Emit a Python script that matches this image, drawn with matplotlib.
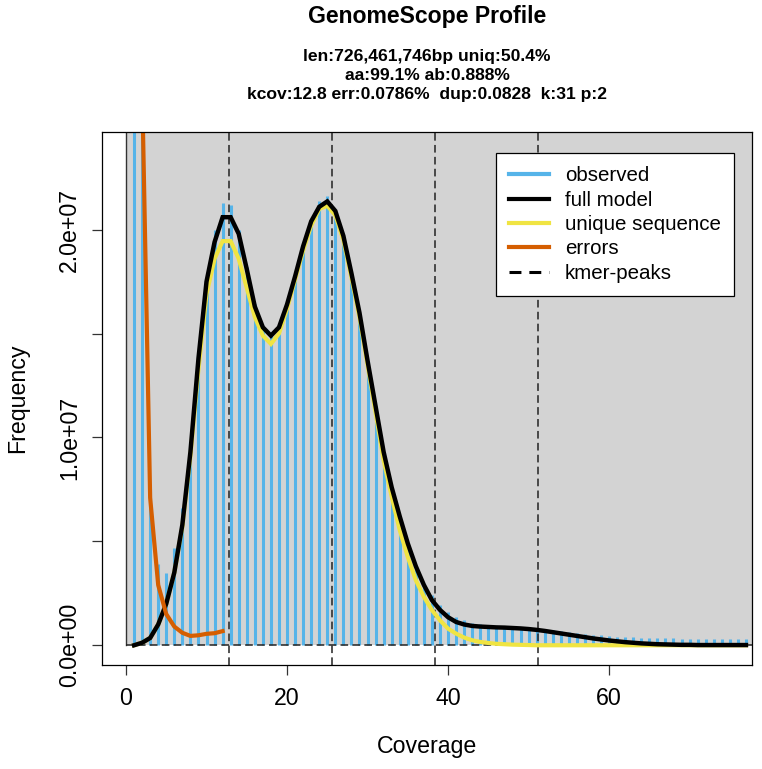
import numpy as np
import matplotlib
matplotlib.use('Agg')
import matplotlib.pyplot as plt
from matplotlib.lines import Line2D
from matplotlib.patches import Rectangle

plt.rcParams['font.family'] = ['Liberation Sans', 'DejaVu Sans']

# k-mer coverage histogram (values in units of 1e7)
coverage = np.arange(1, 78)
observed = np.array([
    6.0, 3.0, 0.75, 0.39, 0.35, 0.47, 0.66, 0.98, 1.40, 1.76,
    2.00, 2.13, 2.12, 2.00, 1.82, 1.64, 1.53, 1.49, 1.53, 1.64,
    1.78, 1.92, 2.04, 2.14, 2.16, 2.09, 1.97, 1.79, 1.59, 1.37,
    1.15, 0.93, 0.75, 0.60, 0.47, 0.377, 0.297, 0.24, 0.193, 0.16,
    0.136, 0.12, 0.107, 0.100, 0.097, 0.095, 0.094, 0.092, 0.090, 0.087,
    0.083, 0.079, 0.074, 0.069, 0.064, 0.059, 0.055, 0.051, 0.047, 0.044,
    0.042, 0.040, 0.038, 0.036, 0.035, 0.034, 0.033, 0.033, 0.032, 0.032,
    0.031, 0.031, 0.030, 0.030, 0.030, 0.029, 0.029]) * 1e7
full_model = np.array([
    0.0, 0.012, 0.035, 0.10, 0.20, 0.35, 0.58, 0.93, 1.38, 1.75,
    1.94, 2.06, 2.06, 1.98, 1.81, 1.63, 1.53, 1.49, 1.53, 1.64,
    1.775, 1.92, 2.04, 2.11, 2.136, 2.09, 1.97, 1.79, 1.60, 1.37,
    1.15, 0.93, 0.76, 0.62, 0.49, 0.38, 0.29, 0.217, 0.17, 0.135,
    0.112, 0.10, 0.093, 0.09, 0.088, 0.086, 0.085, 0.083, 0.081, 0.078,
    0.074, 0.069, 0.063, 0.057, 0.051, 0.045, 0.039, 0.033, 0.028, 0.023,
    0.019, 0.015, 0.012, 0.009, 0.007, 0.005, 0.004, 0.003, 0.002, 0.002,
    0.001, 0.001, 0.001, 0.001, 0.001, 0.001, 0.001]) * 1e7
unique_seq = np.array([
    0.0, 0.012, 0.035, 0.10, 0.20, 0.35, 0.57, 0.91, 1.33, 1.69,
    1.86, 1.945, 1.945, 1.86, 1.72, 1.58, 1.49, 1.45, 1.50, 1.62,
    1.76, 1.90, 2.02, 2.10, 2.115, 2.07, 1.95, 1.77, 1.58, 1.35,
    1.12, 0.89, 0.715, 0.554, 0.425, 0.313, 0.233, 0.169, 0.12, 0.08,
    0.056, 0.037, 0.024, 0.016, 0.011, 0.007, 0.005, 0.003, 0.002, 0.001,
    0.0, 0.0, 0.0, 0.0, 0.0, 0.0, 0.0, 0.0, 0.0, 0.0,
    0.0, 0.0, 0.0, 0.0, 0.0, 0.0, 0.0, 0.0, 0.0, 0.0,
    0.0, 0.0, 0.0, 0.0, 0.0, 0.0, 0.0]) * 1e7
err_coverage = np.arange(2, 13)
errors = np.array([2.7, 0.71, 0.29, 0.15, 0.09, 0.06, 0.045, 0.048, 0.055, 0.058, 0.068]) * 1e7

kcov = 12.8
peak_multiples = [1, 2, 3, 4]

x_ticks = [0, 20, 40, 60]
y_ticks = [0, 0.5e7, 1.0e7, 1.5e7, 2.0e7]
y_tick_labels = ['0.0e+00', '', '1.0e+07', '', '2.0e+07']

title = 'GenomeScope Profile'
subtitle_lines = ['len:726,461,746bp uniq:50.4%',
                  'aa:99.1% ab:0.888%',
                  'kcov:12.8 err:0.0786%  dup:0.0828  k:31 p:2']
legend_labels = ['observed', 'full model', 'unique sequence', 'errors', 'kmer-peaks']

COLOR_BG = '#D3D3D3'
COLOR_HIST = '#56B4E9'
COLOR_FULL = 'black'
COLOR_UNIQUE = '#F0E442'
COLOR_ERR = '#D55E00'
COLOR_PEAK = '#222222'

W, H = 762, 769
fig = plt.figure(figsize=(W / 100, H / 100), dpi=100)
# axes box in pixels: left 102, right 752, top 132, bottom 665
ax = fig.add_axes([102 / W, 1 - 665 / H, 650 / W, 533 / H])
ax.set_xlim(-2.98, 77.75)
ax.set_ylim(-0.095e7, 2.47e7)

ax.add_patch(Rectangle((0, 0), 100, 10e7, facecolor=COLOR_BG, edgecolor='none', zorder=0))
ax.axvline(0, ymin=0.095 / (2.47 + 0.095), color='#333333', lw=1.0, zorder=1)

ax.vlines(coverage, 0, observed, color=COLOR_HIST, lw=2.2, zorder=2)

dash = (0, (5, 2.8))
for m in peak_multiples:
    ax.axvline(kcov * m, color=COLOR_PEAK, lw=1.1, linestyle=dash, zorder=3)
ax.axhline(0, xmin=2.98 / (77.75 + 2.98), color=COLOR_PEAK, lw=1.1, linestyle=dash, zorder=3)

ax.plot(coverage, unique_seq, color=COLOR_UNIQUE, lw=3.0, zorder=4, solid_joinstyle='miter')
ax.plot(coverage, full_model, color=COLOR_FULL, lw=3.2, zorder=5, solid_joinstyle='miter')
ax.plot(err_coverage, errors, color=COLOR_ERR, lw=3.0, zorder=6)

for s in ax.spines.values():
    s.set_linewidth(0.9)
    s.set_color('black')
    s.set_zorder(7)

ax.set_xticks(x_ticks)
ax.set_yticks(y_ticks)
ax.set_yticklabels(y_tick_labels)
ax.tick_params(axis='both', length=7, width=0.9, labelsize=16.7, color='#333333')
ax.tick_params(axis='x', pad=9)
ax.tick_params(axis='y', pad=8)
for lab in ax.get_yticklabels():
    lab.set_rotation(90)
    lab.set_va('center')
    lab.set_ha('right')

ax.set_xlabel('Coverage', fontsize=16.7)
ax.xaxis.set_label_coords(0.5, (665 - 746) / 533)
ax.xaxis.label.set_va('center')
ax.set_ylabel('Frequency', fontsize=16.7)
ax.yaxis.set_label_coords((18 - 102) / 650, 0.5)
ax.yaxis.label.set_va('center')

handles = [
    Line2D([], [], color=COLOR_HIST, lw=3.0),
    Line2D([], [], color=COLOR_FULL, lw=3.0),
    Line2D([], [], color=COLOR_UNIQUE, lw=3.0),
    Line2D([], [], color=COLOR_ERR, lw=3.0),
    Line2D([], [], color='black', lw=2.2, linestyle=(0, (3.9, 2.6))),
]
leg = ax.legend(handles, legend_labels, loc='upper right',
                bbox_to_anchor=((734 - 102) / 650, (665 - 153) / 533),
                fontsize=14.8, frameon=True, fancybox=False, framealpha=1,
                edgecolor='black', handlelength=1.95, handletextpad=0.75,
                borderpad=0.65, labelspacing=0.26, borderaxespad=0)
leg.get_frame().set_linewidth(0.9)
leg.set_zorder(10)

cx = (102 + 752) / 2 / W
fig.text(cx, 1 - 23.3 / H, title, ha='center', va='baseline', fontsize=16.6, fontweight='bold')
for line, base in zip(subtitle_lines, [60.7, 80.0, 99.5]):
    fig.text(cx, 1 - base / H, line, ha='center', va='baseline', fontsize=12.6, fontweight='bold')

fig.savefig('out.png', dpi=100)
